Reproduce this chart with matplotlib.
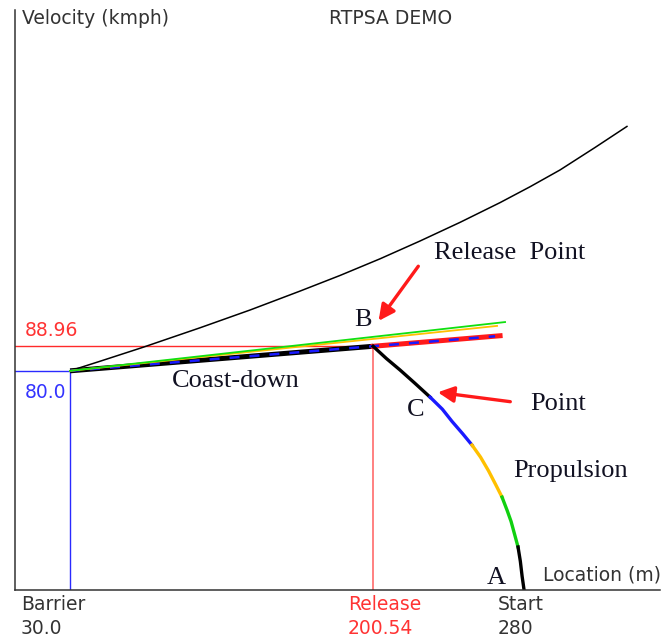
import matplotlib.pyplot as plt

# velocity profile data
barrier_loc = 30.0
release_loc = 200.54
start_loc = 280
v_barrier = 80.0
v_release = 88.96

# upper reference curve (thin black)
upper_loc = [30.0, 46.9, 71.1, 103.1, 131.3, 159.4, 181.9, 204.5, 227.0, 249.5, 272.0, 288.9, 305.7, 325.4, 343.4]
upper_vel = [80.0, 83.5, 88.6, 95.7, 102.2, 109.1, 114.8, 120.9, 127.4, 134.2, 141.4, 147.2, 153.3, 161.5, 169.2]

# coast-down line and its extensions past the release point
coast_loc = [barrier_loc, release_loc]
coast_vel = [v_barrier, v_release]
red_ext_loc = [release_loc, 272.0]
red_ext_vel = [v_release, 92.8]
blue_ext_loc = [barrier_loc, 269.2]
blue_ext_vel = [v_barrier, 92.6]
orange_loc = [barrier_loc, 270.3]
orange_vel = [v_barrier, 96.4]
green_loc = [barrier_loc, 274.8]
green_vel = [v_barrier, 97.8]

# propulsion curve, split by colour segment
prop_black1_loc = [200.54, 208.0, 215.7, 224.0, 232.6]
prop_black1_vel = [88.96, 84.5, 80.3, 75.5, 70.4]
prop_blue_loc = [232.6, 239.5, 245.0, 251.0, 256.2]
prop_blue_vel = [70.4, 66.0, 61.5, 57.0, 52.9]
prop_orange_loc = [256.2, 261.0, 265.5, 269.5, 273.1]
prop_orange_vel = [52.9, 48.5, 43.5, 38.5, 33.9]
prop_green_loc = [273.1, 276.0, 278.2, 280.3, 282.1]
prop_green_vel = [33.9, 29.0, 25.0, 20.0, 15.7]
prop_black2_loc = [282.1, 283.4, 284.4, 285.5]
prop_black2_vel = [15.7, 10.5, 5.0, 0.0]

W, H = 666, 641
fig = plt.figure(figsize=(W / 100, H / 100), dpi=100)
# axes placed in pixels: left spine at x=15, bottom spine at y=590
ax = fig.add_axes([15 / W, (H - 590) / H, 645 / W, 580 / H])
ax.set_xlim(-1.0, 362.0)
ax.set_ylim(0, 211.7)
for s in ['top', 'right']:
    ax.spines[s].set_visible(False)
for s in ['left', 'bottom']:
    ax.spines[s].set_linewidth(1.1)
    ax.spines[s].set_color('#333333')
ax.set_xticks([])
ax.set_yticks([])

# reference lines for barrier and release
ax.plot([-1, barrier_loc], [v_barrier, v_barrier], color='#2a2aff', lw=1.0)
ax.plot([barrier_loc, barrier_loc], [0, v_barrier], color='#2a2aff', lw=1.0)
ax.plot([-1, release_loc], [v_release, v_release], color='#ff2a2a', lw=1.0)
ax.plot([release_loc, release_loc], [0, v_release], color='#ff6b6b', lw=1.2)

ax.plot(upper_loc, upper_vel, color='black', lw=1.1)

ax.plot(coast_loc, coast_vel, color='black', lw=3.6, solid_capstyle='butt')
ax.plot(red_ext_loc, red_ext_vel, color='#ff1a1a', lw=3.6)
ax.plot(blue_ext_loc, blue_ext_vel, color='#1a1aff', lw=1.8, dashes=(4, 4))
ax.plot(orange_loc, orange_vel, color='#ffc000', lw=1.3)
ax.plot(green_loc, green_vel, color='#10e010', lw=1.3)

ax.plot(prop_black1_loc, prop_black1_vel, color='black', lw=2.4)
ax.plot(prop_blue_loc, prop_blue_vel, color='#1a1aff', lw=2.4)
ax.plot(prop_orange_loc, prop_orange_vel, color='#ffc000', lw=2.4)
ax.plot(prop_green_loc, prop_green_vel, color='#10d010', lw=2.4)
ax.plot(prop_black2_loc, prop_black2_vel, color='black', lw=2.4)

# serif annotations
serif = dict(family='Liberation Serif', color='#111122', fontsize=19)
ax.text(277.6, 123.0, 'Release  Point', ha='center', va='center', **serif)
ax.text(304.6, 67.9, 'Point', ha='center', va='center', **serif)
ax.text(194.9, 98.5, 'B', ha='center', va='center', **serif)
ax.text(224.7, 65.7, 'C', ha='center', va='center', **serif)
ax.text(269.7, 4.4, 'A', ha='center', va='center', **serif)
ax.text(123.4, 76.3, 'Coast-down', ha='center', va='center', **serif)
ax.text(311.4, 43.4, 'Propulsion', ha='center', va='center', **serif)

arrow = dict(arrowstyle='-|>', color='#ff1a1a', lw=2.4, mutation_scale=24)
ax.annotate('', xy=(202.7, 97.4), xytext=(226.9, 119.0), arrowprops=arrow)
ax.annotate('', xy=(235.4, 72.3), xytext=(279.3, 68.6), arrowprops=arrow)

# sans labels (screen-style)
sans = dict(family='DejaVu Sans', fontsize=13.5)
def px(x, y):
    return x / W, 1 - y / H

fig.text(*px(22, 19), 'Velocity (kmph)', color='#333333', va='center', **sans)
fig.text(*px(391, 19), 'RTPSA DEMO', color='#333333', ha='center', va='center', **sans)
fig.text(*px(25, 330), '%.2f' % v_release, color='#ff3333', va='center', **sans)
fig.text(*px(25, 393), '%.1f' % v_barrier, color='#3333ff', va='center', **sans)
fig.text(*px(543, 575), 'Location (m)', color='#333333', va='center', **sans)

fig.text(*px(21, 605), 'Barrier', color='#333333', va='center', **sans)
fig.text(*px(21, 628), '%.1f' % barrier_loc, color='#333333', va='center', **sans)
fig.text(*px(348, 605), 'Release', color='#ff3333', va='center', **sans)
fig.text(*px(348, 628), '%.2f' % release_loc, color='#ff3333', va='center', **sans)
fig.text(*px(498, 605), 'Start', color='#333333', va='center', **sans)
fig.text(*px(498, 628), '%d' % start_loc, color='#333333', va='center', **sans)

fig.savefig('out.png', dpi=100)
